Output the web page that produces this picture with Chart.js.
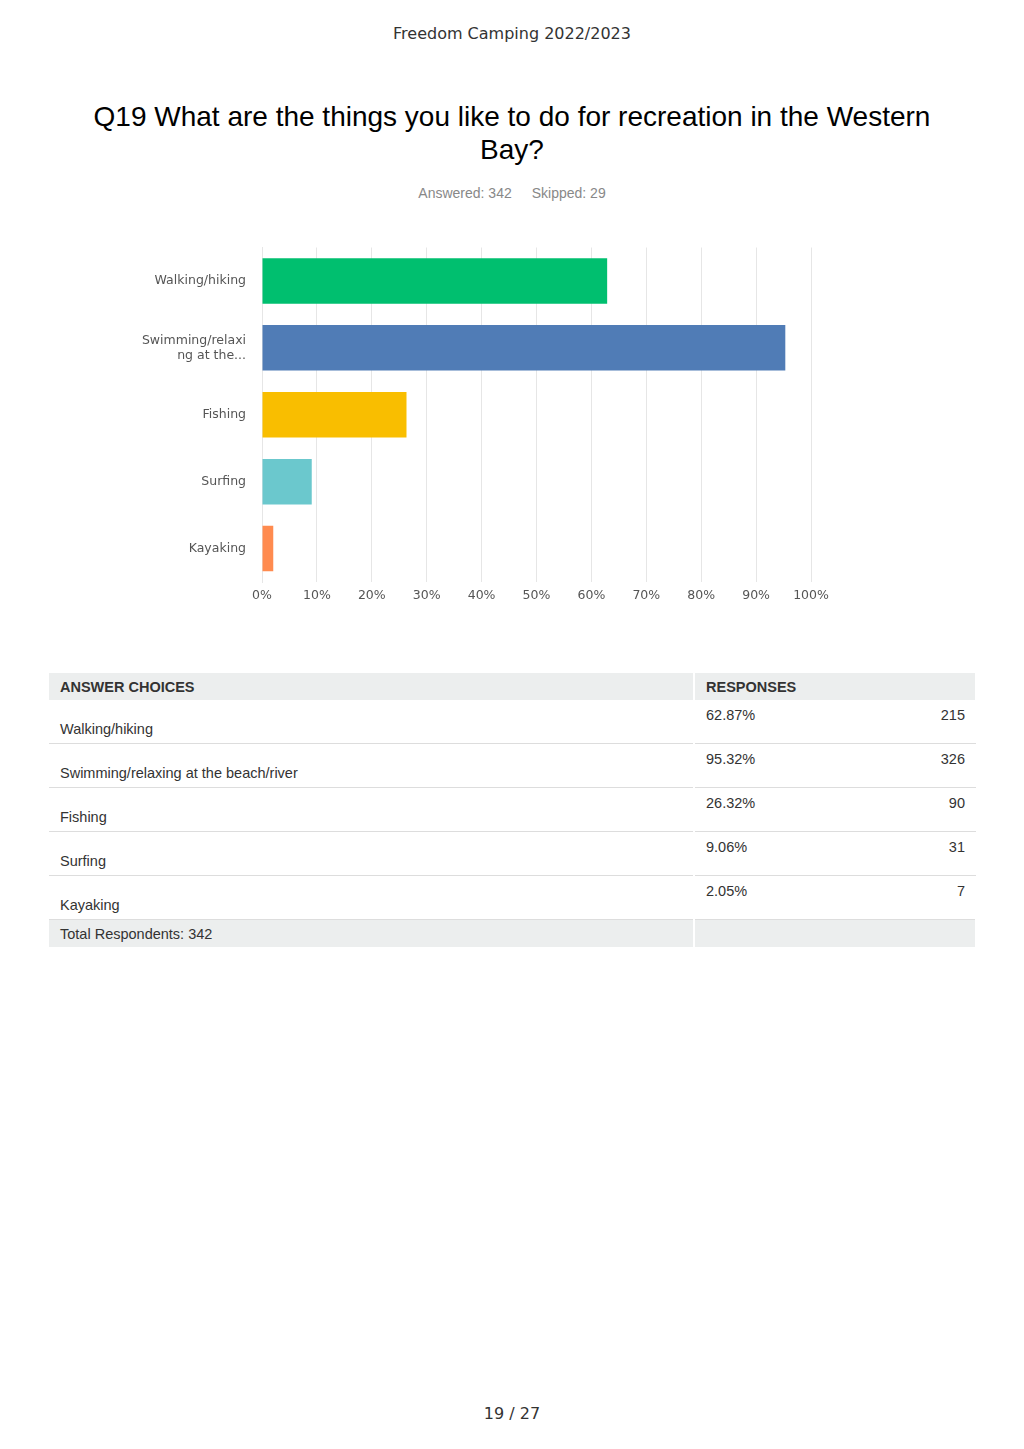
<!DOCTYPE html>
<html>
<head>
<meta charset="utf-8">
<script src="https://cdn.jsdelivr.net/npm/chart.js@4/dist/chart.umd.min.js"></script>
<style>
  body { margin: 0; width: 1024px; height: 1449px; background: #fff; position: relative; font-family: "Liberation Sans", Arial, sans-serif; }
  .hdr { position: absolute; top: 24px; width: 100%; text-align: center; font-family: "DejaVu Sans", sans-serif; font-size: 16px; color: #333; }
  .title { position: absolute; top: 100px; left: 80px; width: 864px; text-align: center; font-size: 28px; line-height: 33px; color: #000; }
  .meta { position: absolute; top: 185px; width: 100%; text-align: center; font-size: 14px; color: #888; }
  .meta span { margin: 0 10px; }
  #wrap { position: absolute; left: 140px; top: 232px; width: 700px; height: 380px; }
  table { position: absolute; left: 49px; top: 673px; width: 928px; border-collapse: collapse; font-size: 14.5px; color: #333; }
  th { background: #eceeee; text-align: left; font-weight: bold; height: 27px; padding: 0 11px; border-right: 2px solid #fff; }
  td { height: 36px; padding: 0 11px; border-bottom: 1px solid #ddd; }
  td.c1 { vertical-align: bottom; padding-bottom: 6px; border-right: 2px solid #fff; }
  td.pc, td.n { vertical-align: top; padding-top: 7px; }
  td.n { text-align: right; }
  tr.tot td { background: #eceeee; height: 27px; border-bottom: none; border-right: 2px solid #fff; }
  .foot { position: absolute; top: 1404px; width: 100%; text-align: center; font-family: "DejaVu Sans", sans-serif; font-size: 16px; color: #333; }
</style>
</head>
<body>
<div class="hdr">Freedom Camping 2022/2023</div>
<div class="title">Q19 What are the things you like to do for recreation in the Western Bay?</div>
<div class="meta"><span>Answered: 342</span><span>Skipped: 29</span></div>
<div id="wrap"><canvas id="chart"></canvas></div>
<table>
  <thead><tr><th style="width:622px">ANSWER CHOICES</th><th colspan="2">RESPONSES</th></tr></thead>
  <tbody id="rows"></tbody>
</table>
<div class="foot">19 / 27</div>
<script>
// 데이터
const categories = ['Walking/hiking', 'Swimming/relaxing at the beach/river', 'Fishing', 'Surfing', 'Kayaking'];
const axisLabels = ['Walking/hiking', ['Swimming/relaxi', 'ng at the...'], 'Fishing', 'Surfing', 'Kayaking'];
const percents = [62.87, 95.32, 26.32, 9.06, 2.05];
const counts = [215, 326, 90, 31, 7];
const barColors = ['#00bf6f', '#507cb6', '#f9be00', '#6bc8cd', '#ff8b4f'];
const totalRespondents = 342;

// 표 채우기
const tbody = document.getElementById('rows');
categories.forEach((c, i) => {
  const tr = document.createElement('tr');
  tr.innerHTML = `<td class="c1">${c}</td><td class="pc">${percents[i].toFixed(2)}%</td><td class="n">${counts[i]}</td>`;
  tbody.appendChild(tr);
});
const tot = document.createElement('tr');
tot.className = 'tot';
tot.innerHTML = `<td>Total Respondents: ${totalRespondents}</td><td colspan="2"></td>`;
tbody.appendChild(tot);

// 차트
new Chart(document.getElementById('chart'), {
  type: 'bar',
  data: {
    labels: axisLabels,
    datasets: [{ data: percents, backgroundColor: barColors, barPercentage: 0.68, categoryPercentage: 1 }]
  },
  options: {
    indexAxis: 'y',
    responsive: true,
    maintainAspectRatio: false,
    animation: false,
    layout: { padding: { top: 10, right: 29 } },
    plugins: { legend: { display: false }, tooltip: { enabled: false } },
    scales: {
      x: {
        min: 0, max: 100,
        ticks: { stepSize: 10, callback: v => v + '%', color: '#555', font: { family: 'DejaVu Sans', size: 12.5 }, padding: 6 },
        grid: { color: '#e6e6e6', drawTicks: false },
        border: { display: false },
        afterFit: s => { s.height = 30; }
      },
      y: {
        ticks: { color: '#555', font: { family: 'DejaVu Sans', size: 12.5 }, padding: 8 },
        grid: { display: false },
        border: { color: '#e6e6e6' },
        afterFit: s => { s.width = 122; }
      }
    }
  }
});
</script>
</body>
</html>
